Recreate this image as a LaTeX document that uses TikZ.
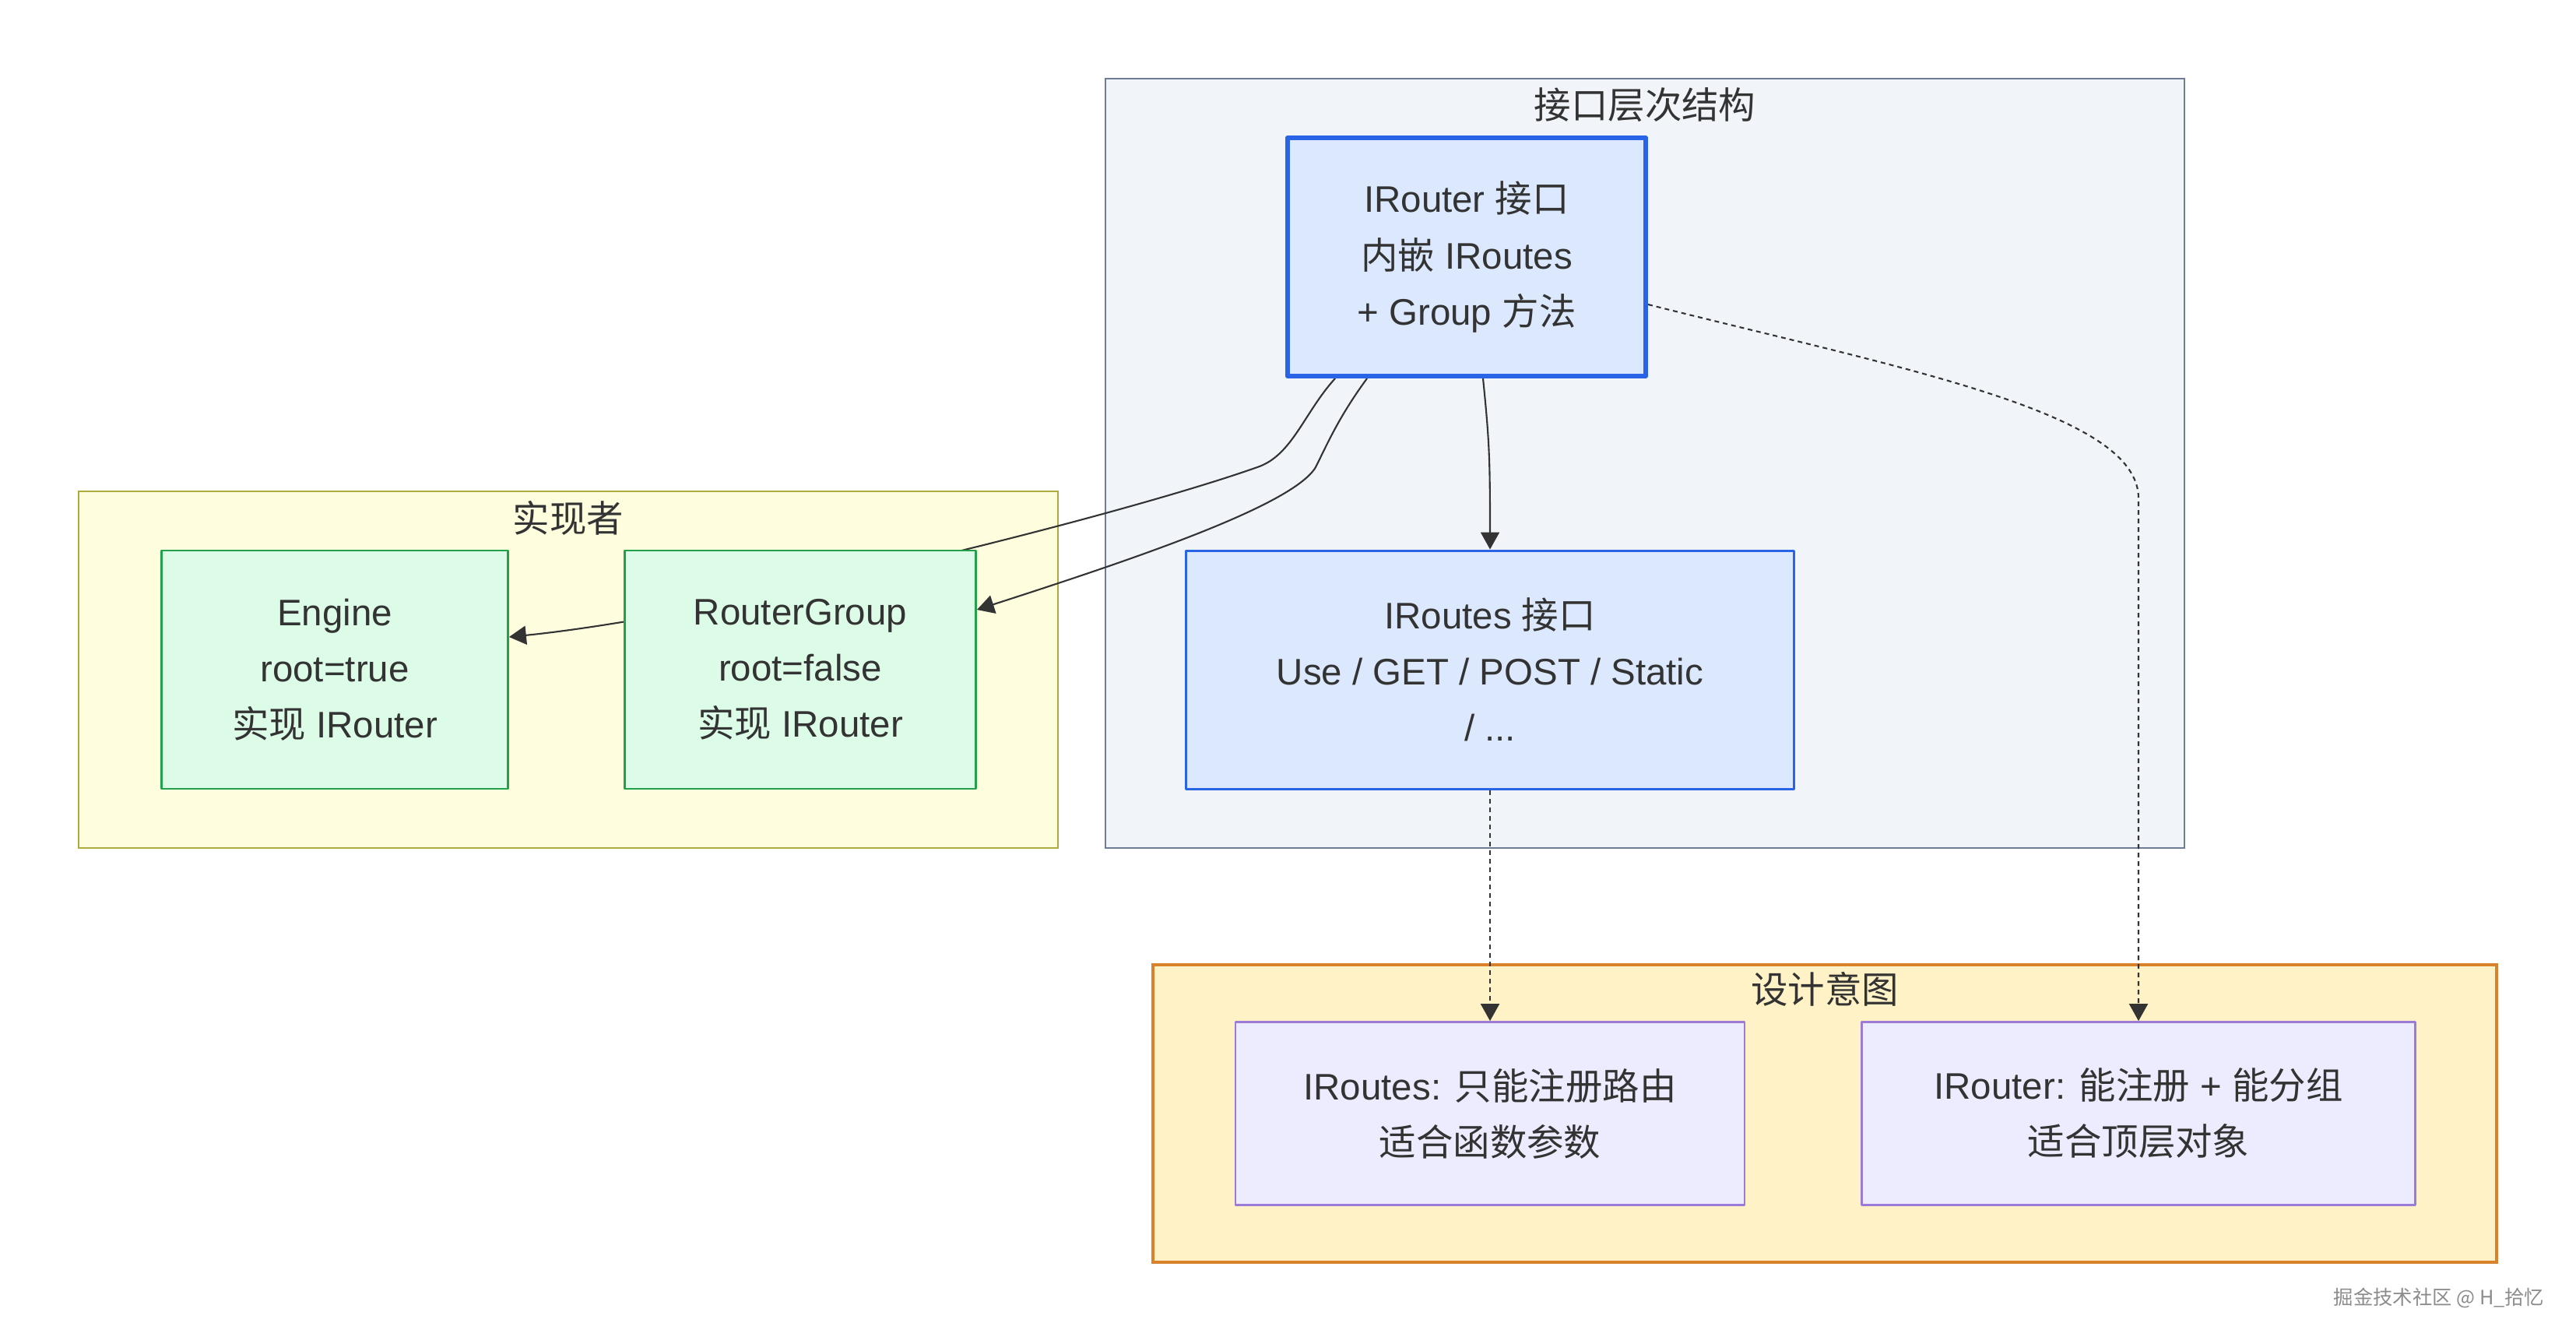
\documentclass[tikz,border=0pt]{standalone}
\usepackage{fontspec}
\setmainfont{Liberation Sans}
\newfontfamily\cjk{Noto Sans CJK SC}
\usetikzlibrary{arrows.meta}
\pgfdeclarelayer{bg}
\pgfdeclarelayer{edges}
\pgfsetlayers{bg,edges,main}

\definecolor{txt}{HTML}{333333}
\definecolor{ifacefill}{HTML}{F1F4F9}
\definecolor{ifaceline}{HTML}{6F7C96}
\definecolor{implfill}{HTML}{FEFEDF}
\definecolor{implline}{HTML}{ACAC3E}
\definecolor{intentfill}{HTML}{FEF2C6}
\definecolor{intentline}{HTML}{D9822B}
\definecolor{bluefill}{HTML}{DBE8FD}
\definecolor{blueline}{HTML}{2A64E6}
\definecolor{greenfill}{HTML}{DCFCE8}
\definecolor{greenline}{HTML}{22A04B}
\definecolor{purplefill}{HTML}{ECECFE}
\definecolor{purpleline}{HTML}{9B7AD8}

\tikzset{
  box/.style={draw,rectangle,align=center,text=txt,inner sep=0pt,
    font=\fontsize{13.5pt}{20.5pt}\selectfont},
  ifbox/.style={box,fill=bluefill,draw=blueline,line width=0.85pt},
  implbox/.style={box,fill=greenfill,draw=greenline,line width=0.8pt,
    minimum width=4.48cm,minimum height=3.06cm},
  intentbox/.style={box,fill=purplefill,draw=purpleline,line width=0.8pt,
    minimum height=2.35cm},
  ctitle/.style={text=txt,inner sep=0pt,font=\cjk\fontsize{13.5pt}{20.5pt}\selectfont},
  link/.style={draw=txt,line width=0.6pt,->},
  dotlink/.style={link,dash pattern=on 0.06cm off 0.05cm}
}

\begin{document}
\begin{tikzpicture}[line join=round,>={Triangle[length=0.22cm,width=0.24cm]}]
\useasboundingbox (0,0) rectangle (33.09,-17.25);

% clusters
\begin{pgfonlayer}{bg}
\filldraw[fill=ifacefill,draw=ifaceline,line width=0.7pt](14.20,-1.01) rectangle (28.06,-10.89);
\filldraw[fill=implfill,draw=implline,line width=0.7pt](1.01,-6.31) rectangle (13.59,-10.89);
\filldraw[fill=intentfill,draw=intentline,line width=1pt](14.81,-12.39) rectangle (32.07,-16.21);
\end{pgfonlayer}

\node[ctitle] (ifacetitle) at (21.13,-1.35) {接口层次结构};
\node[ctitle] (impltitle) at (7.30,-6.65) {实现者};
\node[ctitle] (intenttitle) at (23.44,-12.70) {设计意图};

% interface nodes
\node[ifbox,line width=1.7pt,minimum width=4.60cm,minimum height=3.06cm] (irouter) at (18.84,-3.30)
  {IRouter {\cjk 接口}\\{\cjk 内嵌} IRoutes\\+ Group {\cjk 方法}};
\node[ifbox,minimum width=7.81cm,minimum height=3.06cm] (iroutes) at (19.14,-8.60)
  {IRoutes {\cjk 接口}\\Use / GET / POST / Static\\/ ...};

% implementers
\node[implbox,minimum width=4.45cm] (engine) at (4.30,-8.60)
  {Engine\\root=true\\{\cjk 实现} IRouter};
\node[implbox,minimum width=4.51cm] (routergroup) at (10.28,-8.60)
  {RouterGroup\\root=false\\{\cjk 实现} IRouter};

% intent
\node[intentbox,minimum width=6.54cm] (onlyroutes) at (19.14,-14.30)
  {IRoutes: {\cjk 只能注册路由}\\{\cjk 适合函数参数}};
\node[intentbox,minimum width=7.11cm] (grouping) at (27.47,-14.30)
  {IRouter: {\cjk 能注册} + {\cjk 能分组}\\{\cjk 适合顶层对象}};

\begin{pgfonlayer}{edges}
\draw[link] ([xshift=-1.69cm]irouter.south) .. controls (16.75,-5.3) and (16.6,-5.85) .. (16.15,-6.0)
  .. controls (14.4,-6.62) and (9.3,-7.9) .. ([yshift=0.42cm]engine.east);
\draw[link] ([xshift=-1.28cm]irouter.south) .. controls (17.2,-5.35) and (17.05,-5.7) .. (16.9,-6.0)
  .. controls (16.6,-6.5) and (14.5,-7.2) .. ([yshift=0.77cm]routergroup.east);
\draw[link] ([xshift=0.21cm]irouter.south) .. controls +(0.08,-0.8) and +(0,1.2) .. (iroutes.north);
\draw[dotlink] ([yshift=-0.61cm]irouter.east) .. controls (24.5,-4.75) and (27.47,-5.3) .. (27.47,-6.4)
  -- (grouping.north);
\draw[dotlink] (iroutes.south) -- (onlyroutes.north);
\end{pgfonlayer}

\node[text=black!45,inner sep=0pt,font=\cjk\fontsize{7.2pt}{8pt}\selectfont] (mark) at (31.33,-16.67)
  {掘金技术社区 @ H\_拾忆};
\end{tikzpicture}
\end{document}
